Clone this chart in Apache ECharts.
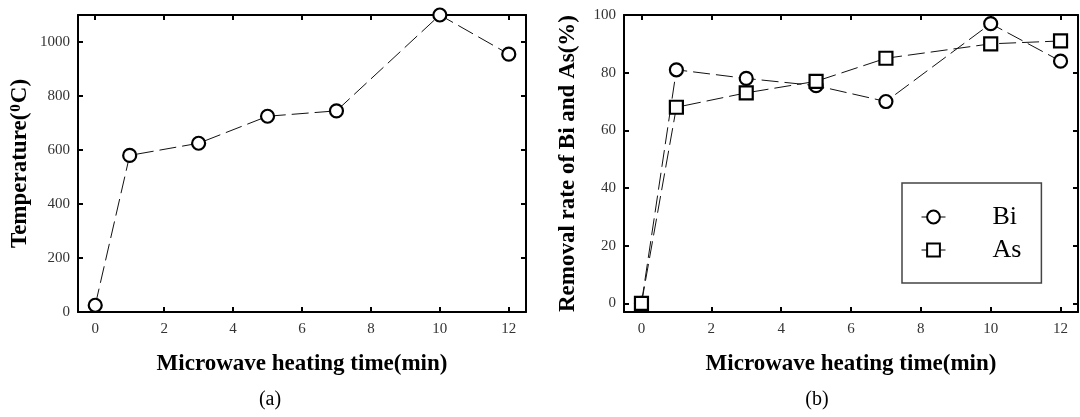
<!DOCTYPE html>
<html>
<head>
<meta charset="utf-8">
<script src="https://cdn.jsdelivr.net/npm/echarts@6/dist/echarts.min.js"></script>
<style>
html,body{margin:0;padding:0;background:#fff;}
#chart{width:1080px;height:417px;}
</style>
</head>
<body>
<div id="chart"></div>
<script>
const times = [0, 1, 3, 5, 7, 10, 12];
const temperature = [25, 580, 625, 725, 745, 1100, 955];
const biRemoval = [0, 81, 78, 75.5, 70, 97, 84];
const asRemoval = [0, 68, 73, 77, 85, 90, 91];
const xTicks = [0, 2, 4, 6, 8, 10, 12];
const tempTicks = [0, 200, 400, 600, 800, 1000];
const removalTicks = [0, 20, 40, 60, 80, 100];
const xTitle = 'Microwave heating time(min)';
const tempTitle = 'Temperature({sup|0}C)';
const removalTitle = 'Removal rate of Bi and As(%)';
const captions = ['(a)', '(b)'];
const seriesNames = ['Bi', 'As'];

const FONT = "'Liberation Serif', 'Times New Roman', serif";
const pairs = (ys) => times.map((t, i) => [t, ys[i]]);

const axisLineStyle = { show: true, onZero: false, lineStyle: { color: '#000', width: 2 } };
const labelStyle = { fontFamily: FONT, fontSize: 15, color: '#333', formatter: (v) => String(v) };
const nameStyle = { fontFamily: FONT, fontSize: 23, fontWeight: 'bold', color: '#000' };

function xAxes(gridIndex) {
  return [
    {
      type: 'value', gridIndex, min: -0.5, max: 12.5, position: 'bottom',
      axisLine: axisLineStyle,
      axisTick: { show: true, inside: true, length: 5, customValues: xTicks, lineStyle: { color: '#000', width: 2 } },
      axisLabel: Object.assign({ show: true, margin: 10, customValues: xTicks }, labelStyle),
      splitLine: { show: false },
      name: xTitle, nameLocation: 'middle', nameGap: 41, nameTextStyle: nameStyle
    },
    {
      type: 'value', gridIndex, min: -0.5, max: 12.5, position: 'top',
      axisLine: axisLineStyle,
      axisTick: { show: true, inside: true, length: 5, customValues: xTicks, lineStyle: { color: '#000', width: 2 } },
      axisLabel: { show: false },
      splitLine: { show: false }
    }
  ];
}

function yAxes(gridIndex, min, max, ticks, name, gap) {
  return [
    {
      type: 'value', gridIndex, min, max, position: 'left',
      axisLine: axisLineStyle,
      axisTick: { show: true, inside: true, length: 5, customValues: ticks, lineStyle: { color: '#000', width: 2 } },
      axisLabel: Object.assign({ show: true, margin: 8, customValues: ticks }, labelStyle),
      splitLine: { show: false },
      name, nameLocation: 'middle', nameGap: gap,
      nameTextStyle: Object.assign({}, nameStyle, {
        rich: { sup: { fontFamily: FONT, fontSize: 15, fontWeight: 'bold', color: '#000', verticalAlign: 'top', lineHeight: 14, padding: [0, 1, 6, 1] } }
      })
    },
    {
      type: 'value', gridIndex, min, max, position: 'right',
      axisLine: axisLineStyle,
      axisTick: { show: true, inside: true, length: 5, customValues: ticks, lineStyle: { color: '#000', width: 2 } },
      axisLabel: { show: false },
      splitLine: { show: false }
    }
  ];
}

const lineStyle = { color: '#111', width: 1, type: [17, 6] };
const markerStyle = { color: '#fff', borderColor: '#000', borderWidth: 2.2 };

const option = {
  animation: false,
  backgroundColor: '#fff',
  grid: [
    { left: 78, top: 15, width: 448, height: 297 },
    { left: 624, top: 15, width: 454, height: 297 }
  ],
  title: [
    { text: captions[0], left: 270, top: 390, textAlign: 'center', padding: 0,
      textStyle: { fontFamily: FONT, fontSize: 20, fontWeight: 'normal', color: '#000' } },
    { text: captions[1], left: 817, top: 390, textAlign: 'center', padding: 0,
      textStyle: { fontFamily: FONT, fontSize: 20, fontWeight: 'normal', color: '#000' } }
  ],
  xAxis: [].concat(xAxes(0), xAxes(1)),
  yAxis: [].concat(
    yAxes(0, 0, 1100, tempTicks, tempTitle, 46),
    yAxes(1, -3, 100, removalTicks, removalTitle, 44)
  ),
  legend: {
    data: seriesNames,
    orient: 'vertical',
    left: 902, top: 183,
    padding: [19, 20, 18, 19],
    itemGap: 3,
    itemWidth: 24, itemHeight: 16,
    borderColor: '#444', borderWidth: 1.5,
    selectedMode: false,
    lineStyle: { type: 'solid', width: 1, color: '#000' },
    textStyle: { fontFamily: FONT, fontSize: 26, color: '#000', lineHeight: 30, padding: [0, 0, 0, 42] }
  },
  series: [
    {
      name: 'Temperature', type: 'line', xAxisIndex: 0, yAxisIndex: 0,
      data: pairs(temperature),
      symbol: 'circle', symbolSize: 13,
      lineStyle, itemStyle: markerStyle, emphasis: { disabled: true }
    },
    {
      name: seriesNames[0], type: 'line', xAxisIndex: 2, yAxisIndex: 2,
      data: pairs(biRemoval),
      symbol: 'circle', symbolSize: 13,
      lineStyle, itemStyle: markerStyle, emphasis: { disabled: true }
    },
    {
      name: seriesNames[1], type: 'line', xAxisIndex: 2, yAxisIndex: 2,
      data: pairs(asRemoval),
      symbol: 'rect', symbolSize: 13,
      lineStyle, itemStyle: markerStyle, emphasis: { disabled: true }
    }
  ]
};

const chart = echarts.init(document.getElementById('chart'), null, { renderer: 'canvas' });
chart.setOption(option);
</script>
</body>
</html>
